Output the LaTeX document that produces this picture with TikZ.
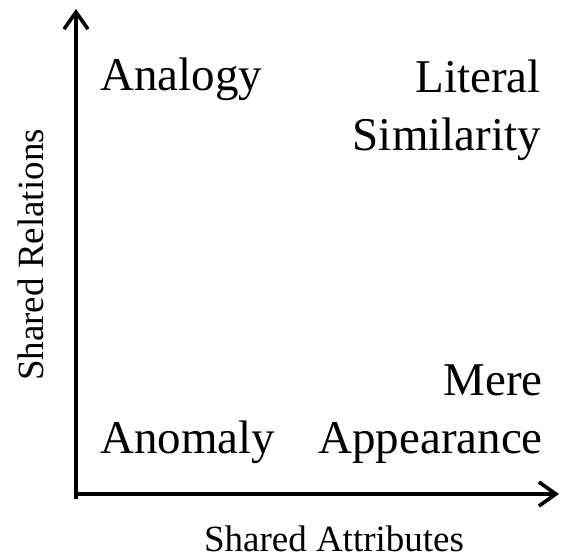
\documentclass[tikz,border=0pt]{standalone}
\usepackage{fontspec}
\setmainfont{Liberation Serif}
\usetikzlibrary{arrows.meta}
\begin{document}
\begin{tikzpicture}[x=1pt,y=-1pt,
  axis/.style={line width=3.6pt,-{Straight Barb[length=17pt,width=24pt]}},
  big/.style={inner sep=0pt,font=\fontsize{47}{56}\selectfont},
  lab/.style={inner sep=0pt,font=\fontsize{37}{44}\selectfont}]
\useasboundingbox (0,0) rectangle (562,558);
\coordinate (o) at (76,494);
\coordinate (ob) at (76,499);
\coordinate (ytop) at (76,9);
\coordinate (xend) at (559,494);
\draw[axis] (ob) -- (ytop);
\draw[axis] (o) -- (xend);
\node[big,anchor=base west] (analogy) at (100,90) {Analogy};
\node[big,anchor=base east] (literal) at (541,92) {Literal};
\node[big,anchor=base east] (similarity) at (541,150) {Similarity};
\node[big,anchor=base east] (mere) at (543,395) {Mere};
\node[big,anchor=base east] (appearance) at (543,453) {Appearance};
\node[big,anchor=base west] (anomaly) at (100,453) {Anomaly};
\node[lab,anchor=base] (attr) at (334,551) {Shared Attributes};
\node[lab,anchor=base,rotate=90] (rel) at (43,255) {Shared Relations};
\end{tikzpicture}
\end{document}
